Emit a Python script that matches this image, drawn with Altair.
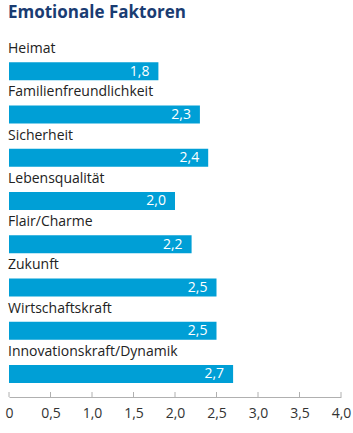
import altair as alt
import pandas as pd

categories = ["Heimat", "Familienfreundlichkeit", "Sicherheit", "Lebensqualität",
              "Flair/Charme", "Zukunft", "Wirtschaftskraft", "Innovationskraft/Dynamik"]
values = [1.8, 2.3, 2.4, 2.0, 2.2, 2.5, 2.5, 2.7]
tick_values = [0, 0.5, 1.0, 1.5, 2.0, 2.5, 3.0, 3.5, 4.0]

df = pd.DataFrame({"cat": categories, "val": values})
ticks_df = pd.DataFrame({"t": tick_values})

W, H = 332, 346
FONT = "Open Sans"
BLUE = "#009fd6"

xscale = alt.Scale(domain=[0, 4], nice=False)
yenc = alt.Y("cat:N", sort=categories, axis=None,
             scale=alt.Scale(paddingInner=0, paddingOuter=0))

base = alt.Chart(df)

bars = base.mark_bar(color=BLUE, height=18, yOffset=9.5).encode(
    x=alt.X("val:Q", scale=xscale,
            axis=alt.Axis(values=tick_values, ticks=False, grid=False,
                          domainColor="#b0b0b0", domainWidth=1, offset=11,
                          labelPadding=9, labelFontSize=14, labelFont=FONT,
                          labelColor="#333333", title=None, labelFlush=False,
                          labelExpr="datum.value == 0 ? '0' : replace(format(datum.value, '.1f'), '.', ',')")),
    y=yenc,
)

cat_labels = base.mark_text(align="left", baseline="middle", yOffset=-12.5, dx=-1,
                            font=FONT, fontSize=14, color="#222222").encode(
    x=alt.value(0),
    y=yenc,
    text="cat:N",
)

val_labels = base.transform_calculate(
    lab="replace(format(datum.val, '.1f'), '.', ',')"
).mark_text(align="right", baseline="middle", yOffset=10, dx=-9,
            font=FONT, fontSize=14, color="white").encode(
    x=alt.X("val:Q", scale=xscale),
    y=yenc,
    text="lab:N",
)

tick_rules = alt.Chart(ticks_df).mark_rule(color="#b0b0b0", strokeWidth=1).encode(
    x=alt.X("t:Q", scale=xscale),
    y=alt.value(H + 6),
    y2=alt.value(H + 11),
)

chart = alt.layer(bars, cat_labels, val_labels, tick_rules).properties(
    width=W, height=H,
    title=alt.TitleParams("Emotionale Faktoren", anchor="start", font=FONT,
                          fontSize=17, fontWeight="bold", color="#1a3c72", offset=18, dx=3),
    padding={"left": 4, "top": 4, "right": 1, "bottom": 0},
).configure_view(stroke=None)

chart.save("out.html", embed_options={"renderer": "svg", "actions": False})
